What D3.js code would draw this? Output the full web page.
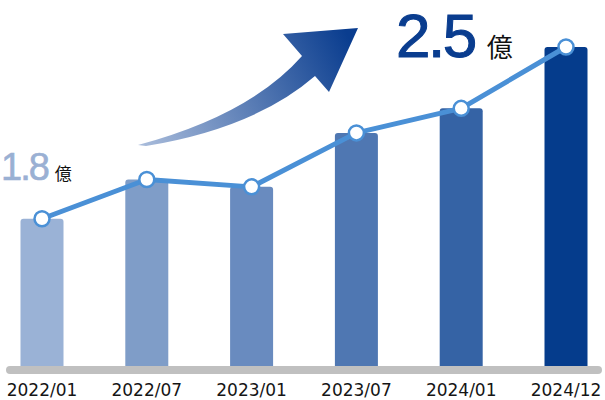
<!DOCTYPE html>
<html>
<head>
<meta charset="utf-8">
<script src="https://cdn.jsdelivr.net/npm/d3@7"></script>
<style>
  body { margin: 0; background: #fff; }
  svg { display: block; }
</style>
</head>
<body>
<div id="chart"></div>
<script>
// chart data
var months = ["2022/01", "2022/07", "2023/01", "2023/07", "2024/01", "2024/12"];
var values = [1.8, 1.96, 1.93, 2.15, 2.25, 2.5];
var barColors = ["#9ab2d6", "#7f9dc8", "#698bbf", "#4f77b2", "#3563a5", "#053c8c"];
var firstLabel = "1.8";
var lastLabel = "2.5";
var unitLabel = "億";

var svgWidth = 605;
var svgHeight = 400;

var svg = d3.select("#chart")
    .append("svg")
    .attr("width", svgWidth)
    .attr("height", svgHeight);

var xScale = d3.scalePoint()
    .domain(months)
    .range([42, 566]);

var yScale = d3.scaleLinear()
    .domain([1.2, 2.5])
    .range([366, 47]);

var barWidth = 43;
var baseY = yScale(1.2);

// gradient for the arrow
var defs = svg.append("defs");
var grad = defs.append("linearGradient")
    .attr("id", "arrowGrad")
    .attr("gradientUnits", "userSpaceOnUse")
    .attr("x1", 140).attr("y1", 145)
    .attr("x2", 350).attr("y2", 40);
grad.append("stop").attr("offset", "0%").attr("stop-color", "#a9bcdb");
grad.append("stop").attr("offset", "100%").attr("stop-color", "#0a3d8f");

svg.append("path")
    .attr("d", "M138,145 Q250,115 302,56 L283,34 L358,28 L329,92 L315,76 Q255,128 146,146 Z")
    .attr("fill", "url(#arrowGrad)");

// bars, top corners slightly rounded
function barPath(cx, top, w, bottom, r) {
    var x0 = cx - w / 2, x1 = cx + w / 2;
    return "M" + x0 + "," + bottom +
        "L" + x0 + "," + (top + r) +
        "Q" + x0 + "," + top + " " + (x0 + r) + "," + top +
        "L" + (x1 - r) + "," + top +
        "Q" + x1 + "," + top + " " + x1 + "," + (top + r) +
        "L" + x1 + "," + bottom + "Z";
}

svg.selectAll("path.bar")
    .data(values)
    .enter()
    .append("path")
    .attr("class", "bar")
    .attr("d", (d, i) => barPath(xScale(months[i]), yScale(d), barWidth, baseY, 3))
    .attr("fill", (d, i) => barColors[i]);

// baseline
svg.append("line")
    .attr("x1", 10)
    .attr("x2", 598)
    .attr("y1", 370)
    .attr("y2", 370)
    .attr("stroke", "#c0c0c0")
    .attr("stroke-width", 8)
    .attr("stroke-linecap", "round");

// x labels
svg.selectAll("text.month")
    .data(months)
    .enter()
    .append("text")
    .attr("class", "month")
    .attr("x", d => xScale(d))
    .attr("y", 395.5)
    .attr("text-anchor", "middle")
    .attr("font-family", "'DejaVu Sans', sans-serif")
    .attr("font-size", 17)
    .attr("fill", "#151515")
    .text(d => d);

// line + markers
var line = d3.line()
    .x((d, i) => xScale(months[i]))
    .y(d => yScale(d));

svg.append("path")
    .datum(values)
    .attr("d", line)
    .attr("fill", "none")
    .attr("stroke", "#4a90d6")
    .attr("stroke-width", 5)
    .attr("stroke-linejoin", "round");

svg.selectAll("circle")
    .data(values)
    .enter()
    .append("circle")
    .attr("cx", (d, i) => xScale(months[i]))
    .attr("cy", d => yScale(d))
    .attr("r", 7.5)
    .attr("fill", "#fff")
    .attr("stroke", "#4a90d6")
    .attr("stroke-width", 2.5);

// value callouts
var first = svg.append("text")
    .attr("x", 1)
    .attr("y", 180)
    .attr("font-family", "'Liberation Sans', Arial, sans-serif")
    .attr("fill", "#9ab0d3");
first.append("tspan")
    .attr("font-size", 38)
    .attr("letter-spacing", -2)
    .attr("stroke", "#9ab0d3")
    .attr("stroke-width", 0.6)
    .text(firstLabel);
first.append("tspan")
    .attr("dx", 7)
    .attr("font-size", 17)
    .attr("fill", "#111")
    .attr("font-family", "'Noto Sans CJK JP', sans-serif")
    .text(unitLabel);

var last = svg.append("text")
    .attr("x", 396)
    .attr("y", 57)
    .attr("font-family", "'Liberation Sans', Arial, sans-serif")
    .attr("fill", "#0a3d8f");
last.append("tspan")
    .attr("font-size", 62)
    .attr("letter-spacing", -2.5)
    .attr("stroke", "#0a3d8f")
    .attr("stroke-width", 1)
    .text(lastLabel);
last.append("tspan")
    .attr("dx", 12)
    .attr("font-size", 26)
    .attr("fill", "#111")
    .attr("font-family", "'Noto Sans CJK JP', sans-serif")
    .text(unitLabel);
</script>
</body>
</html>
